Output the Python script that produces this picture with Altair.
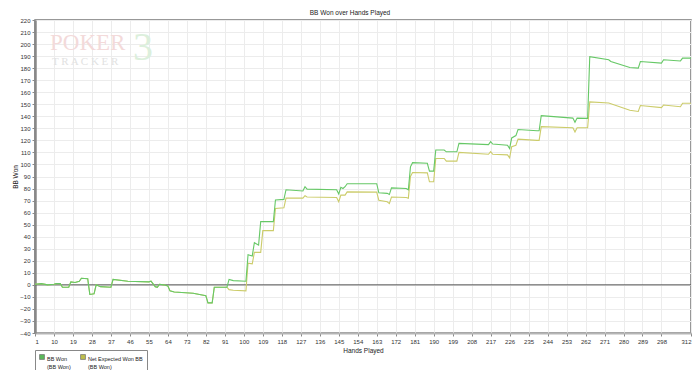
import altair as alt
import pandas as pd

# ---- data ----
series_names = ["BB Won", "Net Expected Won BB"]

# BB Won (green) : hand numbers and values at the break points of the line
won_hands = [1, 4, 7, 10, 11, 13, 14, 17, 18, 20, 22, 23, 26, 27, 29, 30, 32, 37, 38, 45,
             55, 56, 58, 59, 60, 62, 64, 65, 67, 76, 79, 82, 83, 85, 86, 92,
             93, 95, 101, 102, 104, 105, 107, 108, 114, 115, 119, 120, 128, 129, 130,
             144, 145, 146, 147, 148, 149, 163, 164, 168, 169, 170, 177, 178, 179, 180,
             187, 188, 190, 191, 195, 196, 201, 202, 216, 217, 218, 225, 226, 227, 229,
             230, 239, 240, 241, 256, 257, 258, 263, 264, 273, 274, 283, 287, 288, 298,
             299, 307, 308, 312]
won_values = [0.5, 1, 0, 0.5, 1, 1, -2, -2, 2.5, 2, 3, 5.5, 5, -8, -7.5, 0, -1.5, -2, 4.5, 3,
              2.5, 3, -1.5, -2, 0.5, 0, -1, -5, -6, -7, -8, -9, -15, -15, -2, -2,
              4.5, 3.5, 3, 25, 24, 35, 33, 52.5, 52.5, 70.5, 71, 79, 78, 81.5, 79.5,
              79, 75.5, 81, 80, 81.5, 84, 84, 76.5, 76, 75, 80.5, 80, 79, 98, 101.5,
              101, 94.5, 94.5, 112, 112, 110.5, 110.5, 117.5, 116.5, 119, 117, 116, 113.3, 122, 124,
              129, 128, 128, 140.5, 138.5, 135, 138.5, 138.3, 189.5, 187, 185.5, 180.5, 180, 185.5, 184.2,
              187, 186, 188.3, 188.3]

# Net Expected Won BB (yellow)
exp_hands = [1, 4, 7, 10, 11, 13, 14, 17, 18, 20, 22, 23, 26, 27, 29, 30, 32, 37, 38, 45,
             55, 56, 58, 59, 60, 62, 64, 65, 67, 76, 79, 82, 83, 85, 86, 92,
             93, 95, 101, 102, 104, 105, 108, 109, 114, 115, 119, 120, 128, 129, 130,
             144, 145, 146, 148, 149, 163, 164, 168, 169, 170, 177, 178, 179, 180,
             187, 188, 190, 191, 195, 196, 201, 202, 216, 217, 218, 225, 226, 227, 229,
             230, 239, 240, 241, 256, 257, 258, 263, 264, 273, 283, 287, 288, 298,
             299, 307, 308, 312]
exp_values = [0.5, 1, 0, 0.5, 1, 1, -2, -2, 2.5, 2, 3, 5.5, 5, -8, -7.5, 0, -1.5, -2, 4.5, 3,
              2.5, 3, -1.5, -2, 0.5, 0, -1, -5, -6, -7, -8, -9, -15, -15, -2, -2,
              -4, -4.5, -5, 18, 17.5, 27, 27, 45, 45, 63.5, 64, 72, 72, 74, 73,
              72.5, 69, 74.5, 74.5, 77.2, 77, 70.3, 69, 67.5, 73, 72.5, 72, 90, 93.3,
              93, 85.6, 85.6, 105, 105, 102.8, 102.8, 110, 108.5, 110.6, 108.5, 108, 105.5, 114.7, 116,
              121, 120, 120, 131.4, 130.5, 127, 130.5, 130.5, 152, 151, 145, 144, 149, 147.2,
              149.4, 148, 150.8, 150.8]

x_tick_values = [1, 10, 19, 28, 37, 46, 55, 64, 73, 82, 91, 100, 109, 118, 127, 136, 145,
                 154, 163, 172, 181, 190, 199, 208, 217, 226, 235, 244, 253, 262, 271, 280,
                 289, 298, 312]
y_tick_values = [-40, -30, -20, -10, 0, 10, 20, 30, 40, 50, 60, 70, 80, 90, 100, 110, 120,
                 130, 140, 150, 160, 170, 180, 190, 200, 210, 220]

# ---- styling ----
line_colors = ["#66c866", "#cccc6a"]
legend_colors = ["#159c15", "#a3a300"]
FONT = "Liberation Sans"
W, H = 656, 313

won_df = pd.DataFrame({"hand": won_hands, "bb": won_values, "series": series_names[0]})
exp_df = pd.DataFrame({"hand": exp_hands, "bb": exp_values, "series": series_names[1]})
zero_df = pd.DataFrame({"bb": [0]})
legend_df = pd.DataFrame({"series": series_names})

x_scale = alt.Scale(domain=[1, 312], nice=False, zero=False)
y_scale = alt.Scale(domain=[-40, 220], nice=False, zero=False)

x_axis = alt.Axis(values=x_tick_values, title="Hands Played", grid=True, gridColor="#ececec",
                  tickSize=3, tickColor="#888", labelFontSize=6, labelColor="#333", labelFont=FONT,
                  labelPadding=2, labelFlush=True, labelOverlap=False, domainColor="#b5b5b5", domainWidth=2,
                  titleFontSize=6.5, titleFontWeight="normal", titleFont=FONT, titleColor="#222",
                  titlePadding=3)
y_axis = alt.Axis(values=y_tick_values, title="BB Won", grid=True, gridColor="#ececec",
                  tickSize=3, tickColor="#888", labelFontSize=6, labelColor="#333", labelFont=FONT,
                  labelPadding=2, labelOverlap=False, domainColor="#888", domainWidth=2.5,
                  titleFontSize=6.5, titleFontWeight="normal", titleFont=FONT, titleColor="#222",
                  titlePadding=1)

base_x = alt.X("hand:Q", scale=x_scale, axis=x_axis)
base_y = alt.Y("bb:Q", scale=y_scale, axis=y_axis)

# watermark
wm_poker = alt.Chart(zero_df).mark_text(text="POKER", font="Liberation Serif", fontSize=23,
                                        color="#f3dada", align="left", baseline="alphabetic").encode(
    x=alt.value(15), y=alt.value(30))
wm_tracker = alt.Chart(zero_df).mark_text(text="T R A C K E R", font="Liberation Serif", fontSize=11,
                                          color="#e2e2e2", align="left", baseline="alphabetic").encode(
    x=alt.value(17), y=alt.value(45))
wm_three = alt.Chart(zero_df).mark_text(text="3", font="Liberation Serif", fontSize=40,
                                        color="#dcefdc", align="left", baseline="alphabetic").encode(
    x=alt.value(98), y=alt.value(40))

zero_rule = alt.Chart(zero_df).mark_rule(color="#555", strokeWidth=1).encode(y=alt.Y("bb:Q", scale=y_scale, axis=y_axis))

line_exp = alt.Chart(exp_df).mark_line(color=line_colors[1], strokeWidth=1.1).encode(x=base_x, y=base_y)
line_won = alt.Chart(won_df).mark_line(color=line_colors[0], strokeWidth=1.1).encode(x=base_x, y=base_y)

legend_layer = alt.Chart(legend_df).mark_square(filled=True).encode(
    x=alt.value(0), y=alt.value(0),
    fill=alt.Fill("series:N",
                  scale=alt.Scale(domain=series_names, range=legend_colors),
                  legend=alt.Legend(
                      title=None, orient="none", legendX=0, legendY=330, direction="horizontal",
                      symbolType="square", symbolSize=24, symbolStrokeColor="#333", symbolStrokeWidth=0.7,
                      labelFont=FONT, labelFontSize=5.5, labelColor="#222", labelBaseline="top",
                      labelExpr="datum.label == 'BB Won' ? ['BB Won', '(BB Won)'] : ['Net Expected Won BB', '(BB Won)']",
                      labelOffset=2, columnPadding=8, strokeColor="#888", fillColor="white", padding=4,
                      cornerRadius=0, labelLimit=200)),
).transform_filter("false")

chart = alt.layer(wm_poker, wm_tracker, wm_three, zero_rule, line_exp, line_won, legend_layer).properties(
    width=W, height=H,
    title=alt.TitleParams("BB Won over Hands Played", fontSize=6.5, fontWeight="normal", font=FONT,
                          color="#222", offset=1, dx=-13, anchor="middle"),
    autosize=alt.AutoSizeParams(type="none"),
    padding={"left": 27, "top": 12, "right": 1, "bottom": 37},
).configure_view(stroke="#777", strokeWidth=1.5)

chart.save("out.html", embed_options={"renderer": "svg", "actions": False})
